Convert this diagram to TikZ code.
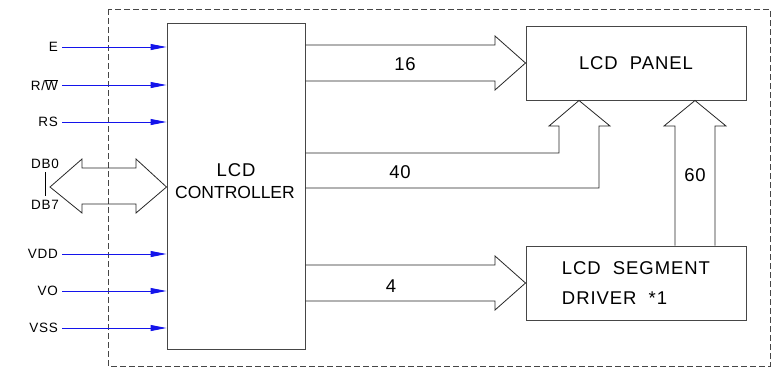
\documentclass[tikz,border=0pt]{standalone}
\usepackage{fontspec}
\setmainfont{Liberation Sans}
\newfontfamily\cadfont[LetterSpace=5]{Liberation Sans}
\usetikzlibrary{arrows.meta,positioning,calc}
\definecolor{linhaCinza}{RGB}{70,70,70}
\definecolor{azulPino}{RGB}{20,20,235}
\tikzset{
  caixa/.style={rectangle, draw=linhaCinza, line width=1pt, inner sep=0pt,
                align=center, font=\cadfont\fontsize{18.5}{22}\selectfont},
  rotulo/.style={inner sep=0pt, font=\cadfont\fontsize{18.5}{20}\selectfont},
  pino/.style={inner sep=0pt, anchor=east, font=\cadfont\fontsize{13.5}{15}\selectfont},
  barramento/.style={draw=black!85, line width=0.8pt, line join=miter},
  setapino/.style={-{Triangle[length=16pt,width=6pt]}, line width=1pt, azulPino},
}
\begin{document}
\begin{tikzpicture}[x=1pt,y=-1pt]
  \useasboundingbox (0,0) rectangle (784,368);
  % moldura tracejada
  \draw[linhaCinza, line width=0.8pt, dash pattern=on 6pt off 3pt] (108,9) rectangle (770,366);

  % blocos
  \node[caixa, minimum width=138pt, minimum height=326pt] (ctrl) at (236,186) {};
  \node[rotulo] at (236,170) {LCD};
  \node[rotulo, font=\fontsize{17.5}{20}\selectfont] at (235,192) {CONTROLLER};
  \node[caixa, minimum width=220pt, minimum height=74pt] (panel) at (636,63) {LCD\ \ PANEL};
  \node[caixa, minimum width=220pt, minimum height=74pt] (driver) at (636,283) {};
  \node[rotulo, align=left, font=\cadfont\fontsize{18.5}{30}\selectfont] at (636,283) {LCD\ \ SEGMENT\\DRIVER\ \ *1};

  % pinos de entrada
  \foreach \nome/\y in {E/47, {R/$\overline{\mbox{W}}$}/85, RS/122, VDD/254, VO/291, VSS/328} {
    \node[pino] (p\y) at (58,\y) {\nome};
    \draw[setapino] (62,\y) -- (ctrl.west |- 0,\y);
  }

  % barramento de dados bidirecional
  \node[pino, anchor=center] (db0) at (45,164) {DB0};
  \node[pino, anchor=center] (db7) at (45,205) {DB7};
  \draw[line width=0.8pt] (45,172) -- (45,196);
  \draw[barramento] (50,187) -- (82,159) -- (82,168) -- (136,168) -- (136,159)
    -- (ctrl.west |- 0,187) -- (136,213) -- (136,204) -- (82,204) -- (82,213) -- cycle;

  % 16 linhas para o painel
  \draw[barramento] (ctrl.east |- 0,45) -- (495,45) -- (495,36) -- (panel.west)
    -- (495,90) -- (495,81) -- (ctrl.east |- 0,81);
  \node[rotulo] at (405,64) {16};

  % 40 linhas para o painel
  \draw[barramento] (ctrl.east |- 0,153) -- (559,153) -- (559,126) -- (549,126)
    -- (579,0 |- panel.south) -- (610,126) -- (599,126) -- (599,188) -- (ctrl.east |- 0,188);
  \node[rotulo] at (400,172) {40};

  % 4 linhas para o driver
  \draw[barramento] (ctrl.east |- 0,265) -- (495,265) -- (495,256) -- (driver.west)
    -- (495,310) -- (495,301) -- (ctrl.east |- 0,301);
  \node[rotulo] at (391,286) {4};

  % 60 linhas do driver para o painel
  \draw[barramento] (675,0 |- driver.north) -- (675,126) -- (664,126) -- (695,0 |- panel.south)
    -- (726,126) -- (715,126) -- (715,0 |- driver.north);
  \node[rotulo] at (695,175) {60};
\end{tikzpicture}
\end{document}
